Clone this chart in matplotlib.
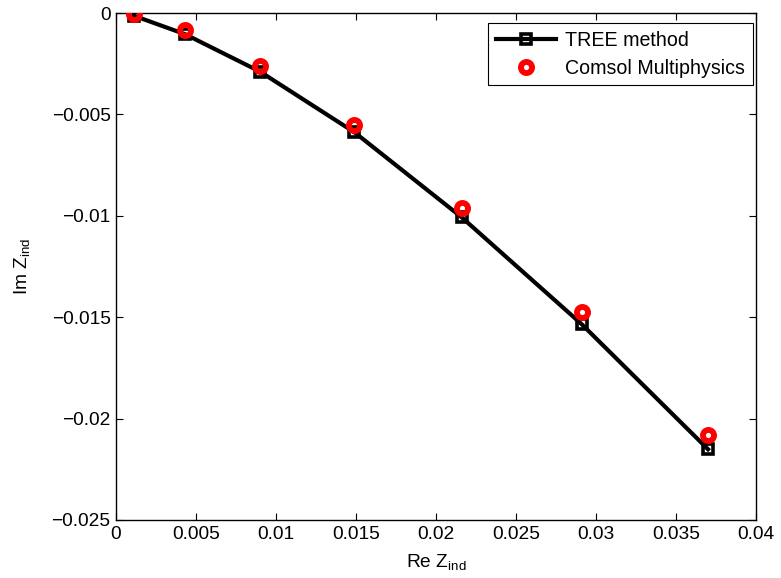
import matplotlib
matplotlib.use("Agg")
import matplotlib.pyplot as plt

plt.rcParams['font.family'] = ['Liberation Sans', 'DejaVu Sans']
plt.rcParams['mathtext.default'] = 'regular'

re_z = [0.0011, 0.0043, 0.0090, 0.0149, 0.0216, 0.0291, 0.0370]
im_tree = [-0.00013, -0.00104, -0.00289, -0.00588, -0.01007, -0.01534, -0.02151]
im_comsol = [-0.00005, -0.00084, -0.00261, -0.00552, -0.00963, -0.01476, -0.02081]

xticks = [0, 0.005, 0.01, 0.015, 0.02, 0.025, 0.03, 0.035, 0.04]
xticklabels = ['0', '0.005', '0.01', '0.015', '0.02', '0.025', '0.03', '0.035', '0.04']
yticks = [-0.025, -0.02, -0.015, -0.01, -0.005, 0]
yticklabels = ['\u22120.025', '\u22120.02', '\u22120.015', '\u22120.01', '\u22120.005', '0']

fig = plt.figure(figsize=(7.81, 5.78), dpi=100)
ax = fig.add_axes([116/781, 58/578, 640/781, 507/578])

ax.plot(re_z, im_tree, color='black', lw=3, marker='s', ms=7.5, mew=2.6,
        mfc='none', mec='black', label='TREE method', zorder=3)
ax.plot(re_z, im_comsol, ls='none', marker='o', ms=8, mew=4.2,
        mfc='none', mec='red', label='Comsol Multiphysics', zorder=4)

ax.set_xlim(0, 0.04)
ax.set_ylim(-0.025, 0)
ax.set_xticks(xticks)
ax.set_xticklabels(xticklabels)
ax.set_yticks(yticks)
ax.set_yticklabels(yticklabels)
ax.tick_params(direction='in', length=5, width=0.8, top=True, right=True,
               labelsize=13.8, pad=4)
for s in ax.spines.values():
    s.set_linewidth(1.0)

ax.set_xlabel('Re Z$_{ind}$', fontsize=13.8, labelpad=7)
ax.set_ylabel('Im Z$_{ind}$', fontsize=13.8, labelpad=14)

leg = ax.legend(loc='upper right', bbox_to_anchor=(0.9953, 0.9803),
                fontsize=14.1, frameon=True, fancybox=False,
                edgecolor='black', framealpha=1, handlelength=3.1,
                borderaxespad=0, borderpad=0.4, labelspacing=0.45,
                handletextpad=0.45)
leg.get_frame().set_linewidth(0.8)

fig.savefig('out.png', dpi=100)
